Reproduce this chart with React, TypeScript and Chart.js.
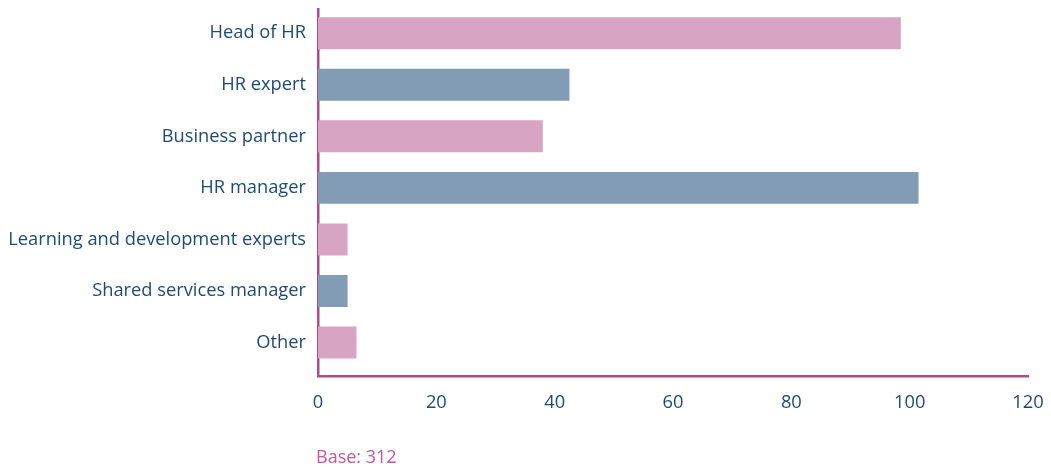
import React, { useEffect, useRef } from "react";
import { Chart, registerables } from "chart.js";

Chart.register(...registerables);

const categories = [
  "Head of HR",
  "HR expert",
  "Business partner",
  "HR manager",
  "Learning and development experts",
  "Shared services manager",
  "Other",
];
const values = [98.5, 42.5, 38, 101.5, 5, 5, 6.5];
const barColors = ["#D8A4C4", "#839CB5", "#D8A4C4", "#839CB5", "#D8A4C4", "#839CB5", "#D8A4C4"];
const xTicks = [0, 20, 40, 60, 80, 100, 120];
const baseNote = "Base: 312";

const TEXT = "#1F4A76";
const AXIS = "#B04B87";

const zeroPad = (s: any) => {
  s.paddingTop = 0;
  s.paddingBottom = 0;
  s.paddingLeft = 0;
  s.paddingRight = 0;
};

export default function App() {
  const ref = useRef<HTMLCanvasElement | null>(null);

  useEffect(() => {
    document.body.style.margin = "0";
    if (!ref.current) return;
    Chart.defaults.font.family = "'Open Sans', 'Noto Sans', sans-serif";
    const chart = new Chart(ref.current, {
      type: "bar",
      data: {
        datasets: [
          {
            data: values.map((v, i) => ({ x: v, y: i })),
            backgroundColor: barColors,
            borderWidth: 0,
            barPercentage: 0.62,
            categoryPercentage: 1,
          },
        ],
      },
      options: {
        indexAxis: "y",
        animation: false,
        responsive: false,
        maintainAspectRatio: false,
        layout: { padding: { top: 9, right: 23, left: 0, bottom: 0 } },
        plugins: { legend: { display: false }, tooltip: { enabled: false } },
        scales: {
          x: {
            type: "linear",
            min: 0,
            max: 120,
            afterBuildTicks: (s: any) => {
              s.ticks = xTicks.map((v) => ({ value: v }));
            },
            afterFit: (s: any) => {
              s.height = 92;
              zeroPad(s);
            },
            grid: { display: false, drawTicks: false },
            border: { display: true, color: AXIS, width: 2.5 },
            ticks: {
              color: TEXT,
              font: { size: 18.3 },
              padding: 16,
              autoSkip: false,
              maxRotation: 0,
            },
          },
          y: {
            type: "linear",
            reverse: true,
            offset: false,
            min: -0.47,
            max: 6.65,
            afterBuildTicks: (s: any) => {
              s.ticks = categories.map((_, i) => ({ value: i }));
            },
            afterFit: (s: any) => {
              s.width = 318;
              zeroPad(s);
            },
            grid: { display: false, drawTicks: false, offset: false },
            border: { display: true, color: AXIS, width: 2.5 },
            ticks: {
              color: TEXT,
              font: { size: 18.3 },
              padding: 12,
              autoSkip: false,
              callback: (v: any) => categories[Math.round(Number(v))] ?? "",
            },
          },
        },
      },
    });
    return () => chart.destroy();
  }, []);

  return (
    <div style={{ position: "relative", width: 1051, height: 468, background: "#fff" }}>
      <canvas ref={ref} width={1051} height={468} style={{ display: "block" }} />
      <div
        style={{
          position: "absolute",
          left: 316,
          top: 445,
          fontFamily: "'Open Sans', 'Noto Sans', sans-serif",
          fontSize: 18,
          lineHeight: "22px",
          color: "#C0589A",
          whiteSpace: "nowrap",
        }}
      >
        {baseNote}
      </div>
    </div>
  );
}
